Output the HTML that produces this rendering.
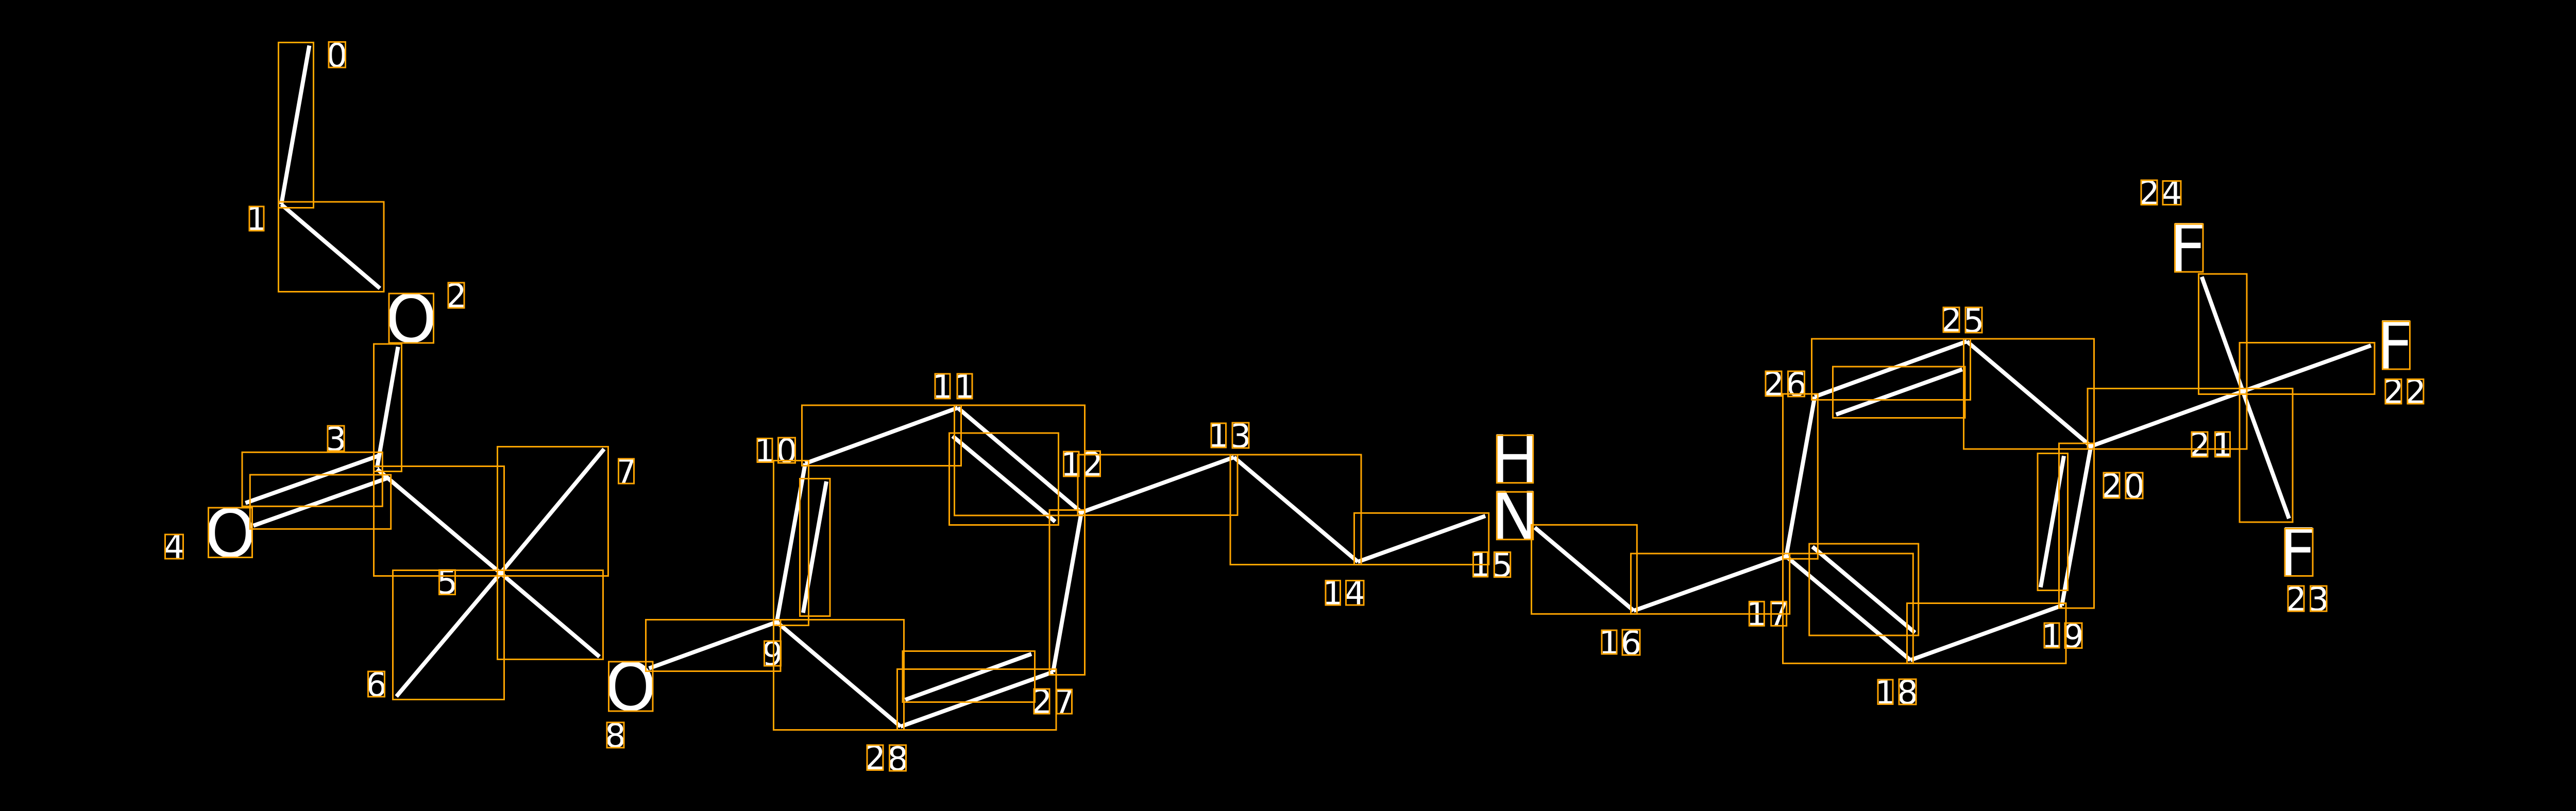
<!DOCTYPE html>
<html>
<head>
<meta charset="utf-8">
<style>
html,body{margin:0;padding:0;background:#000;width:5025px;height:1575px;overflow:hidden}
svg{display:block}
.b line{stroke:#fff;stroke-width:8;stroke-linecap:butt}
.r rect{fill:none;stroke:#ffa500;stroke-width:3}
text{font-family:"DejaVu Sans","Liberation Sans",sans-serif;fill:#fff;text-anchor:middle}
.d text{font-size:64px}
.a text{font-size:128px}
</style>
</head>
<body>
<svg xmlns="http://www.w3.org/2000/svg" width="5025" height="1575" viewBox="0 0 5025 1575">
<rect width="5025" height="1575" fill="#000"/>
<g class="b">
<line x1="600.4" y1="88.5" x2="546" y2="397"/>
<line x1="546" y1="397" x2="737.5" y2="560"/>
<line x1="772.6" y1="673.6" x2="732" y2="908"/>
<line x1="476.5" y1="976.8" x2="735.8" y2="884.8"/>
<line x1="491.8" y1="1020.8" x2="752.2" y2="928.5"/>
<line x1="732" y1="911" x2="971.7" y2="1113"/>
<line x1="971.7" y1="1113" x2="1172.5" y2="872"/>
<line x1="971.7" y1="1113" x2="769.4" y2="1352.6"/>
<line x1="971.7" y1="1113" x2="1163.6" y2="1275.4"/>
<line x1="1259.7" y1="1298" x2="1507.7" y2="1208"/>
<line x1="1507.7" y1="1208" x2="1563" y2="900"/>
<line x1="1604" y1="935" x2="1558.8" y2="1190"/>
<line x1="1563" y1="900" x2="1859" y2="792"/>
<line x1="1859" y1="792" x2="2099" y2="995"/>
<line x1="1849" y1="847" x2="2048" y2="1013"/>
<line x1="2099" y1="995" x2="2044" y2="1305"/>
<line x1="2044" y1="1305" x2="1748" y2="1411"/>
<line x1="2002" y1="1270" x2="1757" y2="1359"/>
<line x1="1748" y1="1411" x2="1507.7" y2="1208"/>
<line x1="2099" y1="995" x2="2395" y2="888"/>
<line x1="2395" y1="888" x2="2635.5" y2="1091"/>
<line x1="2635.5" y1="1091" x2="2883" y2="1002"/>
<line x1="2979" y1="1024.5" x2="3171" y2="1186"/>
<line x1="3171" y1="1186" x2="3467" y2="1080.6"/>
<line x1="3467" y1="1080.6" x2="3522.4" y2="770.4"/>
<line x1="3522.4" y1="770.4" x2="3817.7" y2="663"/>
<line x1="3808.7" y1="717.3" x2="3563.8" y2="805"/>
<line x1="3817.7" y1="663" x2="4058.4" y2="866.6"/>
<line x1="4058.4" y1="866.6" x2="4002" y2="1176"/>
<line x1="4006" y1="885.4" x2="3960.8" y2="1140.5"/>
<line x1="4002" y1="1176" x2="3708" y2="1282"/>
<line x1="3708" y1="1282" x2="3467" y2="1080.6"/>
<line x1="3517.9" y1="1061.7" x2="3716.9" y2="1228.6"/>
<line x1="4058.4" y1="866.6" x2="4353.4" y2="760"/>
<line x1="4353.4" y1="760" x2="4602" y2="671"/>
<line x1="4353.4" y1="760" x2="4443" y2="1007"/>
<line x1="4353.4" y1="760" x2="4273.6" y2="537.6"/>
</g>
<g class="a">
<text x="798" y="664">O</text>
<text x="447" y="1081">O</text>
<text x="1224" y="1379">O</text>
<text x="2940.5" y="937">H</text>
<text x="2940.5" y="1047">N</text>
<text x="4246" y="527">F</text>
<text x="4648" y="716">F</text>
<text x="4459" y="1118">F</text>
</g>
<g class="d">
<text x="654" y="130">0</text>
<text x="498" y="447">1</text>
<text x="885.5" y="597">2</text>
<text x="652" y="875">3</text>
<text x="338" y="1084">4</text>
<text x="868" y="1153">5</text>
<text x="730.5" y="1352">6</text>
<text x="1215.5" y="938">7</text>
<text x="1194.5" y="1451">8</text>
<text x="1499.5" y="1292">9</text>
<text x="1484.5" y="897">1</text><text x="1527" y="898">0</text>
<text x="1829.5" y="773">1</text><text x="1872.5" y="773">1</text>
<text x="2079" y="924">1</text><text x="2120.5" y="924">2</text>
<text x="2365" y="868">1</text><text x="2408" y="869">3</text>
<text x="2587" y="1174">1</text><text x="2630" y="1174">4</text>
<text x="2873.5" y="1119">1</text><text x="2916" y="1120">5</text>
<text x="3123.5" y="1270">1</text><text x="3166" y="1271">6</text>
<text x="3409.5" y="1215">1</text><text x="3452.5" y="1215">7</text>
<text x="3659.5" y="1367">1</text><text x="3702.5" y="1367">8</text>
<text x="3982.5" y="1258">1</text><text x="4024.5" y="1258">9</text>
<text x="4098.5" y="966">2</text><text x="4142.5" y="967">0</text>
<text x="4269.5" y="886">2</text><text x="4314" y="886">1</text>
<text x="4645.5" y="783">2</text><text x="4688.5" y="783">2</text>
<text x="4456.5" y="1186">2</text><text x="4500" y="1186">3</text>
<text x="4171.5" y="397">2</text><text x="4215.5" y="397">4</text>
<text x="3787.5" y="644">2</text><text x="3831" y="645">5</text>
<text x="3442.5" y="768">2</text><text x="3486.5" y="769">6</text>
<text x="2022" y="1385">2</text><text x="2065.5" y="1385">7</text>
<text x="1698.5" y="1494">2</text><text x="1742.5" y="1496">8</text>
</g>
<g class="r">
<rect x="540.5" y="82.5" width="68" height="321"/>
<rect x="540.5" y="392" width="204.5" height="174.5"/>
<rect x="725.5" y="668" width="54" height="247.5"/>
<rect x="470" y="878.3" width="272.3" height="105"/>
<rect x="485.3" y="922" width="273.4" height="105.3"/>
<rect x="725.5" y="905.5" width="253" height="213"/>
<rect x="965.5" y="867.5" width="215" height="251"/>
<rect x="762.5" y="1107.5" width="216" height="251"/>
<rect x="965.5" y="1107.5" width="205" height="173"/>
<rect x="1253.5" y="1203.5" width="261.5" height="100"/>
<rect x="1501.5" y="894.5" width="68" height="320"/>
<rect x="1552.5" y="929.5" width="58.5" height="267"/>
<rect x="1556.5" y="787" width="309" height="117.5"/>
<rect x="1852.5" y="787" width="253" height="214"/>
<rect x="1842.5" y="841" width="212" height="178.5"/>
<rect x="2037" y="990.5" width="68.5" height="320"/>
<rect x="1741.5" y="1299.5" width="308.5" height="118"/>
<rect x="1501.5" y="1203.5" width="253" height="214"/>
<rect x="1752" y="1264.5" width="256.5" height="99"/>
<rect x="2092" y="883" width="310" height="117.5"/>
<rect x="2388" y="883" width="254" height="213.5"/>
<rect x="2628.5" y="996.3" width="261.2" height="100.2"/>
<rect x="2972.5" y="1019.3" width="204.8" height="173"/>
<rect x="3165.5" y="1075" width="308.2" height="117.3"/>
<rect x="3460.5" y="765" width="67.8" height="320.3"/>
<rect x="3516.5" y="658" width="308" height="118.5"/>
<rect x="3557.5" y="712" width="256.5" height="99.5"/>
<rect x="3811.5" y="658" width="253" height="214"/>
<rect x="3996.5" y="861" width="68" height="320"/>
<rect x="3955" y="880.5" width="58.5" height="266"/>
<rect x="3701.5" y="1171.5" width="308.5" height="116.8"/>
<rect x="3460.5" y="1075" width="252.8" height="213.3"/>
<rect x="3511.7" y="1056" width="212" height="178"/>
<rect x="4052" y="754.5" width="309" height="117.5"/>
<rect x="4347" y="665.5" width="262" height="100"/>
<rect x="4347" y="754.5" width="103" height="259.5"/>
<rect x="4267.5" y="532" width="93.5" height="233.5"/>
<rect x="755" y="570" width="86.5" height="96"/>
<rect x="404.5" y="986" width="85" height="96.5"/>
<rect x="1181.5" y="1285" width="85.5" height="96"/>
<rect x="2905.3" y="845.3" width="70.4" height="92.4"/>
<rect x="2905.3" y="955.3" width="70.4" height="92.4"/>
<rect x="4221.5" y="435" width="54.5" height="93"/>
<rect x="4624.5" y="624" width="53" height="93"/>
<rect x="4435" y="1026.5" width="54" height="92"/>
<rect x="638" y="81.5" width="32.5" height="49.5"/>
<rect x="484" y="401" width="28" height="47"/>
<rect x="870" y="549" width="31" height="49"/>
<rect x="636" y="827" width="32" height="49"/>
<rect x="320.5" y="1038" width="35" height="47"/>
<rect x="852.5" y="1107" width="31" height="47.5"/>
<rect x="714.5" y="1304" width="32" height="49"/>
<rect x="1200.5" y="891" width="30" height="48"/>
<rect x="1178" y="1403" width="33" height="49"/>
<rect x="1483.5" y="1245" width="32" height="48"/>
<rect x="1470" y="851.5" width="29" height="46"/>
<rect x="1510.5" y="850" width="33" height="49"/>
<rect x="1815" y="726" width="29" height="48"/>
<rect x="1858" y="726" width="29" height="48"/>
<rect x="2064.5" y="877" width="29.5" height="48"/>
<rect x="2105.5" y="876" width="30" height="49"/>
<rect x="2351" y="822" width="28.5" height="47"/>
<rect x="2392" y="821" width="32" height="49"/>
<rect x="2573" y="1127.5" width="28.5" height="47.5"/>
<rect x="2612.5" y="1127.5" width="34.5" height="47.5"/>
<rect x="2859.5" y="1072.3" width="28.2" height="47.7"/>
<rect x="2900.3" y="1072.3" width="31.4" height="48.4"/>
<rect x="3109" y="1224" width="29" height="46"/>
<rect x="3149" y="1223" width="34" height="49"/>
<rect x="3395.3" y="1168.3" width="29" height="47"/>
<rect x="3437.7" y="1168.3" width="30" height="47"/>
<rect x="3645" y="1320" width="29" height="47.5"/>
<rect x="3686" y="1319" width="33" height="49"/>
<rect x="3968" y="1210" width="29" height="48"/>
<rect x="4008" y="1210" width="33" height="48.5"/>
<rect x="4083" y="918" width="31" height="49"/>
<rect x="4126" y="918" width="33" height="50"/>
<rect x="4254" y="839" width="31" height="48"/>
<rect x="4299.5" y="839" width="29" height="48"/>
<rect x="4630" y="736.5" width="31" height="47.5"/>
<rect x="4673" y="736.5" width="31" height="47.5"/>
<rect x="4441" y="1138" width="31" height="49"/>
<rect x="4484.5" y="1138" width="31.5" height="49"/>
<rect x="4156" y="350" width="31" height="47.5"/>
<rect x="4198" y="351.5" width="35" height="46"/>
<rect x="3772" y="597" width="31" height="48"/>
<rect x="3815" y="597" width="32" height="49"/>
<rect x="3427" y="721" width="31" height="48"/>
<rect x="3470.5" y="721" width="32" height="49"/>
<rect x="2007" y="1338" width="30" height="48"/>
<rect x="2051" y="1339" width="29.5" height="47"/>
<rect x="1683" y="1447" width="31" height="48.5"/>
<rect x="1726.5" y="1447" width="32" height="50"/>
</g>
</svg>
</body>
</html>
